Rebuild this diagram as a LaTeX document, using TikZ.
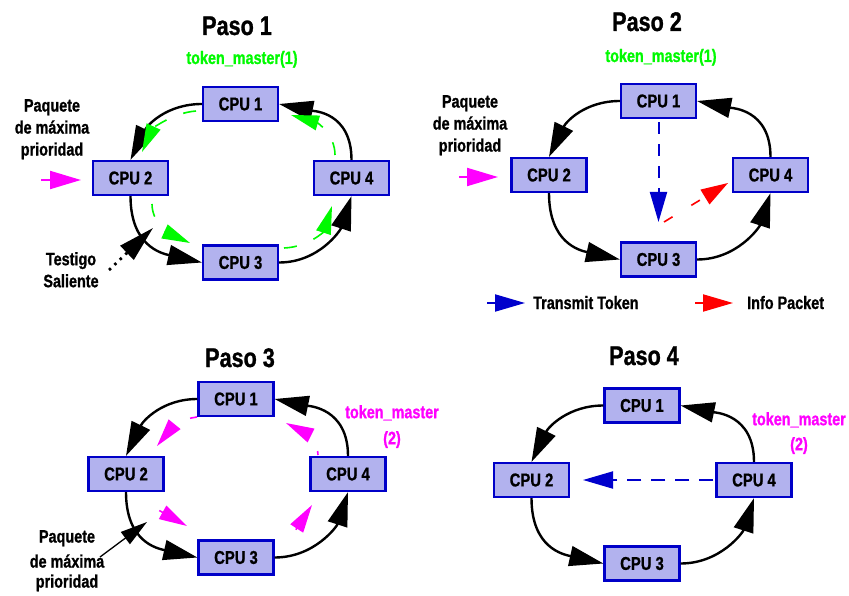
\documentclass[tikz,border=0pt]{standalone}
\usepackage{fontspec}
\setmainfont{Liberation Sans}[FakeStretch=0.8, BoldFeatures={FakeBold=1}]
\usetikzlibrary{arrows.meta,calc}

\definecolor{cpufill}{RGB}{178,178,238}
\definecolor{cpuline}{RGB}{0,0,200}
\definecolor{tokgreen}{RGB}{0,250,0}
\definecolor{pktmag}{RGB}{255,0,255}
\definecolor{tokblue}{RGB}{0,0,204}
\definecolor{pktred}{RGB}{255,0,0}

\tikzset{
  cpu/.style={draw=cpuline, fill=cpufill, line width=2.2bp,
    minimum width=75bp, minimum height=34bp, inner sep=0pt,
    font=\fontsize{18.5bp}{20bp}\selectfont\bfseries},
  ring/.style={line width=2.4bp, -{Triangle[length=34bp,width=20bp]}},
  titletext/.style={font=\fontsize{27bp}{30bp}\selectfont\bfseries,
    anchor=base, inner sep=0pt},
  note/.style={font=\fontsize{18bp}{22bp}\selectfont\bfseries,
    align=center, inner sep=0pt},
  greenpass/.style={draw=tokgreen, line width=1.6bp,
    dash pattern=on 13bp off 18bp, -{Triangle[length=28bp,width=15bp]}},
  magpass/.style={draw=pktmag, line width=1.6bp,
    dash pattern=on 7bp off 40bp, -{Triangle[length=28bp,width=15bp]}},
  inpacket/.style={draw=pktmag, fill=pktmag, line width=2bp,
    -{Triangle[length=31bp,width=18bp]}},
  tokenline/.style={draw=tokblue, line width=2bp,
    dash pattern=on 12bp off 10bp, -{Triangle[length=30bp,width=17bp]}},
  infoline/.style={draw=pktred, line width=1.6bp,
    dash pattern=on 10bp off 22bp, -{Triangle[length=27bp,width=17bp]}},
  legendtok/.style={draw=tokblue, line width=2bp, -{Triangle[length=30bp,width=17bp]}},
  legendinfo/.style={draw=pktred, line width=2bp, -{Triangle[length=30bp,width=17bp]}},
  leaving/.style={line width=2.8bp, dash pattern=on 2.5bp off 5bp,
    -{Triangle[length=36bp,width=19bp]}},
  pointer/.style={line width=1.3bp, -{Triangle[length=27bp,width=15bp]}},
}

% the four black ring links of one panel (prefix #1)
\newcommand{\ringlinks}[1]{%
  \draw[ring] (#1-1.west) .. controls +(-35,0) and +(17,-35) .. (#1-2.north);
  \draw[ring] (#1-2.south) .. controls +(0,50) and +(-40,-9) .. (#1-3.west);
  \draw[ring] (#1-3.east) .. controls +(40,0) and +(-11,34) .. (#1-4.south);
  \draw[ring] (#1-4.north) .. controls +(0,-48) and +(34,7) .. (#1-1.east);
}

\begin{document}
\begin{tikzpicture}[x=1bp,y=-1bp]
\useasboundingbox (0,0) rectangle (849,596);

% ---------------- Paso 1 ----------------
\node[titletext] (t1) at (237,35) {Paso 1};
\node[note, anchor=base, text=tokgreen] (m1) at (242,64) {token\_master(1)};
\node[cpu] (p1-1) at (240.5,104) {CPU 1};
\node[cpu] (p1-2) at (130.5,178) {CPU 2};
\node[cpu] (p1-4) at (351.5,178) {CPU 4};
\node[cpu] (p1-3) at (240.5,262.5) {CPU 3};
\ringlinks{p1}
\coordinate (g1a) at (196,111);  \coordinate (g1b) at (142,152);
\coordinate (g2a) at (152,204);  \coordinate (g2b) at (190,243);
\coordinate (g3a) at (284,248);  \coordinate (g3b) at (332,206);
\coordinate (g4a) at (335,155);  \coordinate (g4b) at (291,115);
\draw[greenpass] (g1a) .. controls +(-25,2) and +(10,-22) .. (g1b);
\draw[greenpass] (g2a) .. controls +(0,18) and +(-22,-10) .. (g2b);
\draw[greenpass] (g3a) .. controls +(25,-1) and +(-8,25) .. (g3b);
\draw[greenpass] (g4a) .. controls +(0,-20) and +(27,8) .. (g4b);
\node[note, anchor=north] (q1) at (52,99) {Paquete\\de máxima\\prioridad};
\coordinate (in1a) at (41,180); \coordinate (in1b) at (81,180);
\draw[inpacket] (in1a) -- (in1b);
\node[note, anchor=north] (s1) at (71,252) {Testigo\\Saliente};
\coordinate (out1a) at (109,270); \coordinate (out1b) at (153,228);
\draw[leaving] (out1a) -- (out1b);

% ---------------- Paso 2 ----------------
\node[titletext] (t2) at (647,31) {Paso 2};
\node[note, anchor=base, text=tokgreen] (m2) at (661,62) {token\_master(1)};
\node[cpu] (p2-1) at (658.5,101) {CPU 1};
\node[cpu] (p2-2) at (549,175) {CPU 2};
\node[cpu] (p2-4) at (770.5,175) {CPU 4};
\node[cpu] (p2-3) at (658.5,259.5) {CPU 3};
\ringlinks{p2}
\node[note, anchor=north] (q2) at (470,95) {Paquete\\de máxima\\prioridad};
\coordinate (in2a) at (459,177); \coordinate (in2b) at (498,177);
\draw[inpacket] (in2a) -- (in2b);
\coordinate (tk2) at (658.5,222);
\draw[tokenline] ([yshift=-3bp]p2-1.south) -- (tk2);
\coordinate (if2a) at (664,222); \coordinate (if2b) at (728,183);
\draw[infoline] (if2a) -- (if2b);
\coordinate (lg1a) at (487,303); \coordinate (lg1b) at (525,303);
\draw[legendtok] (lg1a) -- (lg1b);
\node[note, anchor=base west] (lt1) at (533,309) {Transmit Token};
\coordinate (lg2a) at (695,303); \coordinate (lg2b) at (733,303);
\draw[legendinfo] (lg2a) -- (lg2b);
\node[note, anchor=base west] (lt2) at (747,309) {Info Packet};

% ---------------- Paso 3 ----------------
\node[titletext] (t3) at (240,367) {Paso 3};
\node[note, anchor=north, text=pktmag] (m3) at (392,405) {token\_master\\[4bp](2)};
\node[cpu] (p3-1) at (236,399) {CPU 1};
\node[cpu] (p3-2) at (126,474) {CPU 2};
\node[cpu] (p3-4) at (348,474) {CPU 4};
\node[cpu] (p3-3) at (236,557.5) {CPU 3};
\ringlinks{p3}
\coordinate (h1a) at (197,417);     \coordinate (h1b) at (157,446);
\coordinate (h2a) at (159.3,510.5); \coordinate (h2b) at (187,526);
\coordinate (h3a) at (295.9,529.7); \coordinate (h3b) at (312,505);
\coordinate (h4a) at (318,455);     \coordinate (h4b) at (286,423);
\draw[magpass] (h1a) .. controls +(-15,2) and +(17,-21) .. (h1b);
\draw[magpass] (h2a) -- (h2b);
\draw[magpass] (h3a) -- (h3b);
\draw[magpass, dash pattern=on 4bp off 40bp] (h4a) .. controls +(0,-12) and +(22,11) .. (h4b);
\node[note, anchor=north] (q3) at (67,530) {Paquete\\[3bp]de máxima\\[-2bp]prioridad};
\coordinate (pt3a) at (100,557); \coordinate (pt3b) at (147,522);
\draw[pointer] (pt3a) -- (pt3b);

% ---------------- Paso 4 ----------------
\node[titletext] (t4) at (644,365) {Paso 4};
\node[note, anchor=north, text=pktmag] (m4) at (799,412) {token\_master\\[3bp](2)};
\node[cpu] (p4-1) at (642,405.5) {CPU 1};
\node[cpu] (p4-2) at (531.5,480) {CPU 2};
\node[cpu] (p4-4) at (754,480) {CPU 4};
\node[cpu] (p4-3) at (642,563.5) {CPU 3};
\ringlinks{p4}
\coordinate (tk4) at (583,480);
\draw[tokenline, dash pattern=on 14bp off 10bp] ([xshift=-2bp]p4-4.west) -- (tk4);
\end{tikzpicture}
\end{document}
